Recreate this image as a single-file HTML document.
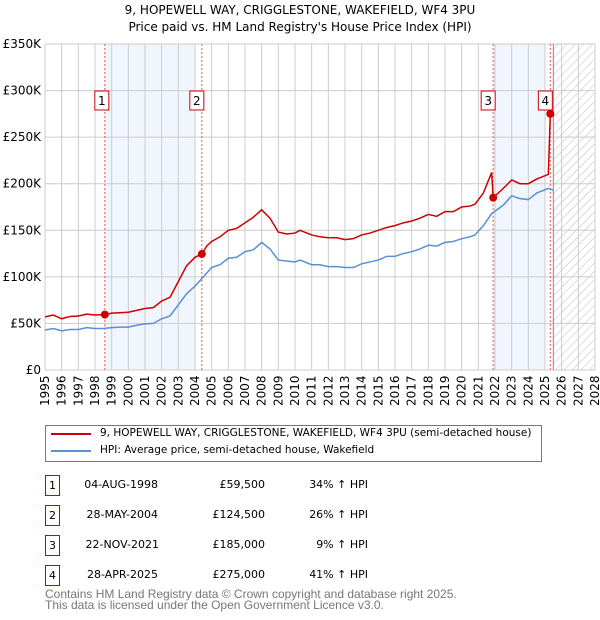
<!DOCTYPE html>
<html><head><meta charset="utf-8"><style>
body{margin:0;width:600px;height:620px;background:#fff;font-family:"DejaVu Sans","Liberation Sans",sans-serif;overflow:hidden;position:relative}
.t{position:absolute;font-size:11px;color:#000;white-space:nowrap}
.box{position:absolute;border:1px solid #c00;width:13px;height:19px;font-size:11px;text-align:center;line-height:19px}
</style></head><body>
<svg id="chart" width="600" height="420" style="position:absolute;left:0;top:0" font-family="DejaVu Sans, Liberation Sans, sans-serif">
<defs><pattern id="hatch" width="6" height="6" patternUnits="userSpaceOnUse" patternTransform="rotate(45)"><line x1="0" y1="0" x2="0" y2="6" stroke="#bbb" stroke-width="1"/></pattern></defs>
<text x="300" y="14" text-anchor="middle" font-size="12">9, HOPEWELL WAY, CRIGGLESTONE, WAKEFIELD, WF4 3PU</text>
<text x="300" y="31" text-anchor="middle" font-size="12">Price paid vs. HM Land Registry's House Price Index (HPI)</text>
<g id="g"></g>
</svg>
<script>
const yearTicks=[1995,1996,1997,1998,1999,2000,2001,2002,2003,2004,2005,2006,2007,2008,2009,2010,2011,2012,2013,2014,2015,2016,2017,2018,2019,2020,2021,2022,2023,2024,2025,2026,2027,2028];
const valueTicks=[0,50000,100000,150000,200000,250000,300000,350000];
const valueLabels=["£0","£50K","£100K","£150K","£200K","£250K","£300K","£350K"];
const hpiYears=[1995,1995.5,1996,1996.5,1997,1997.5,1998,1998.5,1999,1999.5,2000,2000.5,2001,2001.5,2002,2002.5,2003,2003.5,2004,2004.5,2005,2005.5,2006,2006.5,2007,2007.5,2008,2008.5,2009,2009.5,2010,2010.3,2011,2011.5,2012,2012.5,2013,2013.5,2014,2014.5,2015,2015.5,2016,2016.5,2017,2017.5,2018,2018.5,2019,2019.5,2020,2020.5,2020.8,2021.3,2021.8,2022.5,2023,2023.5,2024,2024.5,2025.2,2025.5];
const hpiValues=[43000,44500,42000,43500,43500,45500,44500,44500,45500,46000,46000,48000,49500,50000,55000,58000,70000,82000,90000,100000,110000,113000,120000,121000,127000,129000,137000,130000,118000,117000,116000,118000,113000,113000,111000,111000,110000,110000,114000,116000,118000,122000,122000,125000,127000,130000,134000,133000,137000,138000,141000,143000,145000,155000,168000,177000,187000,184000,183000,190000,195000,193000];
const priceYears=[1995,1995.5,1996,1996.5,1997,1997.5,1998,1998.59,1999,1999.5,2000,2000.5,2001,2001.5,2002,2002.5,2003,2003.5,2004,2004.41,2004.7,2005,2005.5,2006,2006.5,2007,2007.5,2008,2008.5,2009,2009.5,2010,2010.3,2011,2011.5,2012,2012.5,2013,2013.5,2014,2014.5,2015,2015.5,2016,2016.5,2017,2017.5,2018,2018.5,2019,2019.5,2020,2020.5,2020.8,2021.3,2021.8,2021.89,2022.5,2023,2023.5,2024,2024.5,2025.2,2025.32,2025.45];
const priceValues=[57000,59000,55000,57500,58000,60000,59000,59500,61000,61500,62000,64000,66000,67000,74000,78000,95000,112000,121000,124500,133000,138000,143000,150000,152000,158000,164000,172000,163000,148000,146000,147000,150000,145000,143000,142000,142000,140000,141000,145000,147000,150000,153000,155000,158000,160000,163000,167000,165000,170000,170000,175000,176000,178000,190000,212000,185000,195000,204000,200000,200000,205000,210000,275000,273000];
const saleYears=[1998.59,2004.41,2021.89,2025.32];
const saleValues=[59500,124500,185000,275000];
const saleLabels=["1","2","3","4"];
const X0=45,X1=595,Y0=370,Y1=44;
const x=y=>X0+(y-1995)/(2028-1995)*(X1-X0);
const yv=v=>Y0-v/350000*(Y0-Y1);
const NS="http://www.w3.org/2000/svg",g=document.getElementById('g');
function mk(t,a,p){const e=document.createElementNS(NS,t);for(const k in a)e.setAttribute(k,a[k]);(p||g).appendChild(e);return e;}
let r=mk('rect',{x:x(1998.59),y:Y1,width:x(2004.0)-x(1998.59),height:Y0-Y1,fill:'#eef3fd',opacity:0.8});


r=mk('rect',{x:x(2021.89),y:Y1,width:x(2025.0)-x(2021.89),height:Y0-Y1,fill:'#eef3fd',opacity:0.8});


r=mk('rect',{x:x(2025.5),y:Y1,width:X1-x(2025.5),height:Y0-Y1,fill:'url(#hatch)'});


yearTicks.forEach(t=>{const l=mk('line',{x1:x(t),x2:x(t),y1:Y1,y2:Y0,stroke:'#ccc','stroke-width':1});


const tx=mk('text',{x:0,y:0,transform:`translate(${x(t)+4},${Y0+36}) rotate(-90)`,'font-size':12});tx.textContent=t;

});
valueTicks.forEach((v,i)=>{const l=mk('line',{x1:X0,x2:X1,y1:yv(v),y2:yv(v),stroke:'#ccc','stroke-width':1});


const tx=mk('text',{x:X0-4,y:yv(v)+4,'text-anchor':'end','font-size':12});tx.textContent=valueLabels[i];

});
r=mk('line',{x1:x(2025.5),x2:x(2025.5),y1:Y1,y2:Y0,stroke:'#888'});


saleYears.forEach(s=>{const l=mk('line',{x1:x(s),x2:x(s),y1:Y1,y2:Y0,stroke:'#e55','stroke-width':1,'stroke-dasharray':'2,2'});

});
let p=mk('polyline',{points:hpiYears.map((t,i)=>x(t)+','+yv(hpiValues[i])).join(' '),fill:'none',stroke:'#5b8fd4','stroke-width':1.5});


p=mk('polyline',{points:priceYears.map((t,i)=>x(t)+','+yv(priceValues[i])).join(' '),fill:'none',stroke:'#cc0000','stroke-width':1.5});


saleYears.forEach((s,i)=>{const c=mk('circle',{cx:x(s),cy:yv(saleValues[i]),r:4,fill:'#cc0000'});


const off=i==0?-10:-12;
const b=mk('rect',{x:x(s)+off,y:91,width:14,height:19,fill:'#fff',stroke:'#c00'});


const tx=mk('text',{x:x(s)+off+7,y:105,'text-anchor':'middle','font-size':12});tx.textContent=saleLabels[i];

});
</script>
<div style="position:absolute;left:45px;top:425px;width:495px;height:35px;border:1px solid #777"></div>
<div style="position:absolute;left:51px;top:433px;width:40px;height:2px;background:#cc0000"></div>
<div class="t" style="left:100px;top:427px;font-size:10.5px">9, HOPEWELL WAY, CRIGGLESTONE, WAKEFIELD, WF4 3PU (semi-detached house)</div>
<div style="position:absolute;left:51px;top:450px;width:40px;height:2px;background:#5b8fd4"></div>
<div class="t" style="left:100px;top:444px;font-size:10.5px">HPI: Average price, semi-detached house, Wakefield</div>

<div class="box" style="left:45px;top:475px">1</div>
<div class="t" style="left:78px;top:478px;width:80px;text-align:right">04-AUG-1998</div>
<div class="t" style="left:185px;top:478px;width:80px;text-align:right">£59,500</div>
<div class="t" style="left:268px;top:478px;width:100px;text-align:right">34% ↑ HPI</div>

<div class="box" style="left:45px;top:505px">2</div>
<div class="t" style="left:78px;top:508px;width:80px;text-align:right">28-MAY-2004</div>
<div class="t" style="left:185px;top:508px;width:80px;text-align:right">£124,500</div>
<div class="t" style="left:268px;top:508px;width:100px;text-align:right">26% ↑ HPI</div>

<div class="box" style="left:45px;top:535px">3</div>
<div class="t" style="left:78px;top:538px;width:81px;text-align:right">22-NOV-2021</div>
<div class="t" style="left:185px;top:538px;width:80px;text-align:right">£185,000</div>
<div class="t" style="left:268px;top:538px;width:100px;text-align:right">9% ↑ HPI</div>

<div class="box" style="left:45px;top:565px">4</div>
<div class="t" style="left:78px;top:568px;width:80px;text-align:right">28-APR-2025</div>
<div class="t" style="left:185px;top:568px;width:80px;text-align:right">£275,000</div>
<div class="t" style="left:268px;top:568px;width:100px;text-align:right">41% ↑ HPI</div>

<div class="t" style="left:45px;top:589px;color:#777;line-height:11px;font-family:'Liberation Sans',sans-serif;font-size:12px">Contains HM Land Registry data © Crown copyright and database right 2025.<br>This data is licensed under the Open Government Licence v3.0.</div>
</body></html>
